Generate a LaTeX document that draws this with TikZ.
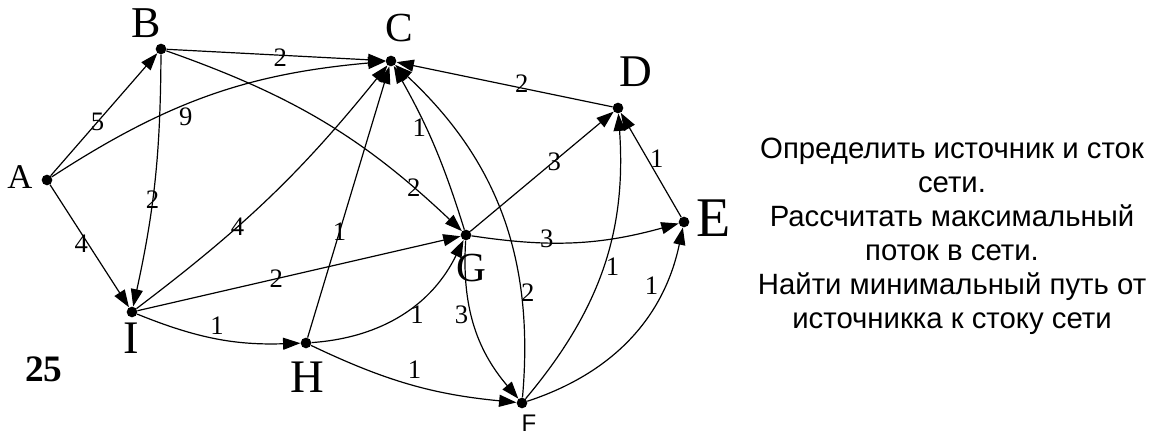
\documentclass[tikz,border=0pt]{standalone}
\usepackage{fontspec}
\setmainfont{Liberation Serif}
\setsansfont{Liberation Sans}
\usetikzlibrary{arrows.meta}

\begin{document}
\begin{tikzpicture}[x=0.75pt, y=0.75pt,
        vertex/.style={circle, fill, inner sep=0pt, minimum size=8pt},
        vname/.style={inner sep=0pt, font=\fontsize{#1}{#1}\selectfont},
        wt/.style={inner sep=0pt, font=\fontsize{20}{20}\selectfont},
        arc/.style={-{Triangle[length=13pt, width=9pt]}, line width=0.9pt}]
            \useasboundingbox (0, 0) rectangle (1161, 445);

            \node[vertex] (A) at (47, 265) {};
            \node[vertex] (B) at (161, 396) {};
            \node[vertex] (C) at (391, 384) {};
            \node[vertex] (D) at (618, 337) {};
            \node[vertex] (E) at (684, 223) {};
            \node[vertex] (G) at (466, 210) {};
            \node[vertex] (I) at (132, 133) {};
            \node[vertex] (H) at (306, 102) {};
            \node[vertex] (F) at (522, 42) {};

            \node[vname=26] (nA) at (20, 268) {A};
            \node[vname=33] (nB) at (146, 422) {B};
            \node[vname=31] (nC) at (399, 417) {C};
            \node[vname=34] (nD) at (636, 373) {D};
            \node[vname=42] (nE) at (714, 227) {E};
            \node[vname=31] (nG) at (471, 177) {G};
            \node[vname=35] (nH) at (307, 68) {H};
            \node[vname=35] (nI) at (131, 107) {I};
            \node[inner sep=0pt, font=\sffamily\fontsize{18}{18}\selectfont] (nF) at (529, 22) {F};

            \draw[arc] (A) -- node[wt, pos=0.44] (wAB) {5} (B);
            \draw[arc] (A) to[bend left=14] node[wt, pos=0.42, yshift=-9pt] (wAC) {9} (C);
            \draw[arc] (A) -- node[wt, pos=0.48, xshift=-5pt] (wAI) {4} (I);
            \draw[arc] (B) -- node[wt, pos=0.52, yshift=-2pt] (wBC) {2} (C);
            \draw[arc] (B) to[bend left=6] node[wt, pos=0.58] (wBI) {2} (I);
            \draw[arc] (B) to[bend left=12] node[wt, pos=0.83] (wBG) {2} (G);
            \draw[arc] (D) -- node[wt, pos=0.42, yshift=3pt] (wDC) {2} (C);
            \draw[arc] (G) to[bend right=6] node[wt, pos=0.62, xshift=-5pt] (wGC) {1} (C);
            \draw[arc] (I) to[bend right=7] node[wt, pos=0.36] (wIC) {4} (C);
            \draw[arc] (H) -- node[wt, pos=0.39] (wHC) {1} (C);
            \draw[arc] (F) to[bend right=26] node[wt, pos=0.27, xshift=5pt] (wFC) {2} (C);
            \draw[arc] (I) -- node[wt, pos=0.43] (wIG) {2} (G);
            \draw[arc] (I) to[bend right=12] node[wt, pos=0.5, yshift=10pt] (wIH) {1} (H);
            \draw[arc] (H) to[bend right=30] node[wt, pos=0.6, yshift=-9pt] (wHG) {1} (G);
            \draw[arc] (H) to[bend right=10] node[wt, pos=0.52, yshift=12pt] (wHF) {1} (F);
            \draw[arc] (G) -- node[wt, pos=0.585] (wGD) {3} (D);
            \draw[arc] (G) to[bend right=12] node[wt, pos=0.35, yshift=3pt] (wGE) {3} (E);
            \draw[arc] (G) to[bend right=22] node[wt, pos=0.43, xshift=-7.5pt] (wGF) {3} (F);
            \draw[arc] (E) -- node[wt, pos=0.56, xshift=7pt] (wED) {1} (D);
            \draw[arc] (F) to[bend right=22] node[wt, pos=0.5, xshift=7pt] (wFD) {1} (D);
            \draw[arc] (F) to[bend right=30] node[wt, pos=0.65, yshift=18pt] (wFE) {1} (E);

            \node[inner sep=0pt, font=\bfseries\fontsize{28}{28}\selectfont] (num) at (44, 76) {25};
            \node[inner sep=0pt, align=center, font=\sffamily\fontsize{22}{25.5}\selectfont] (task) at (952, 209)
                {Определить источник и сток\\сети.\\Рассчитать максимальный\\поток в сети.\\Найти минимальный путь от\\источникка к стоку сети};
        \end{tikzpicture}
\end{document}
